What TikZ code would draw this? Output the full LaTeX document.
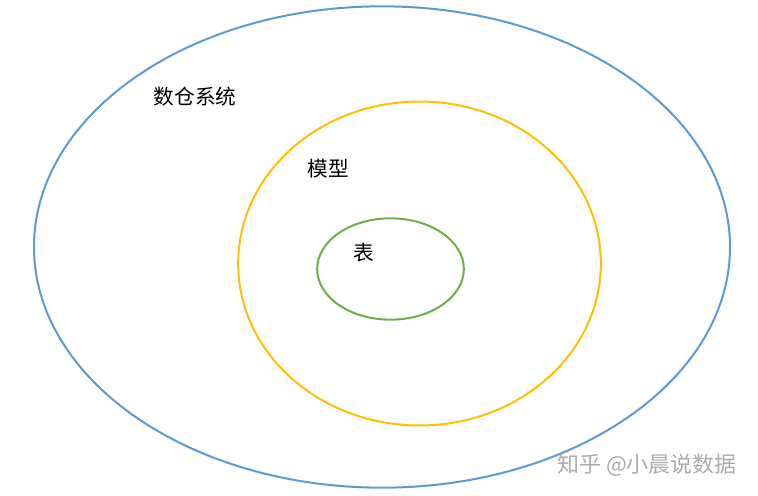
\documentclass[tikz,border=0pt]{standalone}
\usepackage{fontspec}
\newfontfamily\cjk{Noto Sans CJK SC}
\usetikzlibrary{shapes.geometric}
\definecolor{ringblue}{RGB}{91,155,213}
\definecolor{ringyellow}{RGB}{255,192,0}
\definecolor{ringgreen}{RGB}{112,173,71}
\begin{document}
\begin{tikzpicture}[x=0.75pt,y=-0.75pt]
  \tikzset{
    ring/.style={ellipse,draw,line width=1.5pt,inner sep=0pt},
    ringtext/.style={font=\cjk\fontsize{15.5pt}{18pt}\selectfont,inner sep=0pt},
    wmtext/.style={font=\cjk\fontsize{16.5pt}{19pt}\selectfont,inner sep=0pt,text=black!33},
  }
  \useasboundingbox (0,0) rectangle (758,496);
  \node [ring,draw=ringblue,minimum width=522pt,minimum height=361pt] (sys) at (382,247) {};
  \node [ring,draw=ringyellow,minimum width=272pt,minimum height=243pt] (model) at (419.5,263.5) {};
  \node [ring,draw=ringgreen,minimum width=110pt,minimum height=76pt] (tab) at (390.5,269) {};
  \node [ringtext] (syst) at (195,97) {数仓系统};
  \node [ringtext] (modelt) at (328,169) {模型};
  \node [ringtext] (tabt) at (364,253) {表};
  \node [wmtext] (wm) at (647,465) {知乎 @小晨说数据};
\end{tikzpicture}
\end{document}
